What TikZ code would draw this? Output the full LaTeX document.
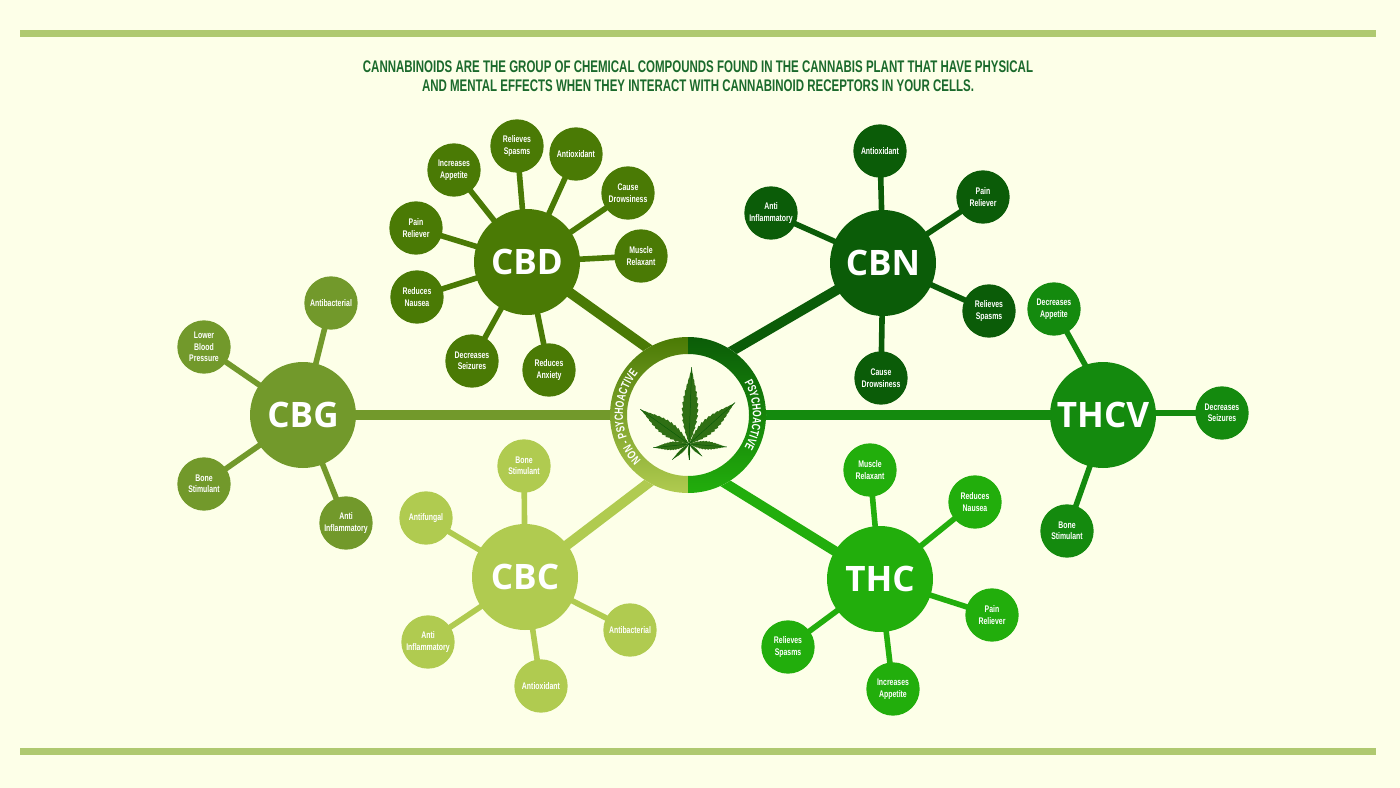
\documentclass[tikz,border=0pt]{standalone}
\usepackage{fontspec}
\setmainfont{Liberation Sans}
\newfontfamily\condfont[FakeStretch=0.72]{Liberation Sans}
\newfontfamily\titlefont[FakeStretch=0.685]{Liberation Sans}
\newfontfamily\hubfont{Open Sans}
\usetikzlibrary{backgrounds,decorations.text}
\definecolor{paper}{HTML}{FDFFE8}
\definecolor{barc}{HTML}{AFC970}
\definecolor{titlec}{HTML}{1B6A2C}
\definecolor{cbdc}{HTML}{4A7A05}
\definecolor{cbnc}{HTML}{0B5C08}
\definecolor{cbgc}{HTML}{72992B}
\definecolor{cbcc}{HTML}{B0CB50}
\definecolor{thcc}{HTML}{22AE0C}
\definecolor{thcvc}{HTML}{148A0E}
\definecolor{leafc}{HTML}{2F6F14}
\tikzset{
  x=0.75pt,y=0.75pt,
  bigcirc/.style={circle,inner sep=0pt,minimum size=79.5pt,text=white,font=\hubfont\bfseries\fontsize{26.3}{27}\selectfont},
  kidcirc/.style={circle,inner sep=0pt,minimum size=40pt,text=white,align=center,font=\condfont\bfseries\fontsize{7.2}{8.6}\selectfont},
  spoke/.style={line width=4.2pt},
  trunk/.style={line width=7.5pt},
  titletext/.style={text=titlec,align=center,font=\titlefont\bfseries\fontsize{12.6}{14.4}\selectfont},
  declare function={lf(\t)=sin(180*\t^0.85)^1.25*(0.85+0.22*mod(\t*13,1));}
}
\newcommand{\leaflet}[5]{%
  \fill[leafc,shift={(#1,#2)},rotate=#3]
    plot[domain=0:1,samples=79] ({#4*\x},{#5*lf(\x)})
    -- plot[domain=1:0,samples=79] ({#4*\x},{-#5*lf(\x)}) -- cycle;
  \draw[cbnc,line width=0.35pt,shift={(#1,#2)},rotate=#3] (0,0) -- (#4,0);}
\begin{document}
\begin{tikzpicture}
\useasboundingbox (0,0) rectangle (1400,-788);
\begin{pgfonlayer}{background}
\fill[paper] (0,0) rectangle (1400,-788);
\end{pgfonlayer}
\fill[barc] (20,-30) rectangle (1376,-37);
\fill[barc] (20,-748) rectangle (1376,-755);
\node[titletext] (title) at (698,-76.5) {CANNABINOIDS ARE THE GROUP OF CHEMICAL COMPOUNDS FOUND IN THE CANNABIS PLANT THAT HAVE PHYSICAL\\AND MENTAL EFFECTS WHEN THEY INTERACT WITH CANNABINOID RECEPTORS IN YOUR CELLS.};

% main circles
\node[bigcirc,fill=cbdc] (cbd) at (527,-262) {CBD};
\node[bigcirc,fill=cbnc] (cbn) at (883,-263) {CBN};
\node[bigcirc,fill=cbgc] (cbg) at (303,-415) {CBG};
\node[bigcirc,fill=cbcc] (cbc) at (525,-577) {CBC};
\node[bigcirc,fill=thcc] (thc) at (880,-579) {THC};
\node[bigcirc,fill=thcvc] (thcv) at (1103,-415) {THCV};

% hub
\node[circle,fill=paper,inner sep=0pt,minimum size=117pt] (hub) at (688,-415) {};
\coordinate (tcbd) at (660,-357);
\coordinate (tcbn) at (720,-358);
\coordinate (tcbc) at (655,-478);
\coordinate (tthc) at (720,-480);
\begin{pgfonlayer}{background}
\draw[trunk,cbdc] (tcbd) -- (cbd.center);
\draw[trunk,cbnc] (tcbn) -- (cbn.center);
\draw[trunk,cbgc] (hub.center) -- (cbg.center);
\draw[trunk,cbcc] (tcbc) -- (cbc.center);
\draw[trunk,thcc] (tthc) -- (thc.center);
\draw[trunk,thcvc] (hub.center) -- (thcv.center);
\end{pgfonlayer}
\shade[top color=cbdc,middle color=cbgc,bottom color=cbcc]
  (688,-337) arc (90:270:78) -- (688,-476) arc (270:90:61) -- cycle;
\shade[top color=cbnc,middle color=thcvc,bottom color=thcc]
  (688,-337) arc (90:-90:78) -- (688,-476) arc (-90:90:61) -- cycle;
\path[decorate,decoration={text along path,text color=white,text align=center,
  text={|\condfont\bfseries\fontsize{9}{9}\selectfont|PSYCHOACTIVE}}]
  (688,-415) ++(45:65) arc (45:-45:65);
\path[decorate,decoration={text along path,text color=white,text align=center,
  text={|\condfont\bfseries\fontsize{9}{9}\selectfont|NON - PSYCHOACTIVE}}]
  (688,-415) ++(242:65) arc (242:122:65);
% leaf
\leaflet{689}{-444}{88}{77}{8}
\leaflet{689}{-444}{42}{62}{7.5}
\leaflet{689}{-444}{144.5}{60}{7.5}
\leaflet{689}{-444}{-4.5}{38}{4.2}
\leaflet{689}{-444}{186}{36}{4.2}
\leaflet{689}{-444}{-43}{18}{1.5}
\leaflet{689}{-444}{223}{23}{1.7}
\leaflet{689}{-444}{-90}{16}{1.1}

% children
\foreach \n/\x/\y/\t in {
  d1/517/146/{Relieves\\Spasms}, d2/576/154/{Antioxidant}, d3/628/193/{Cause\\Drowsiness},
  d4/641/256/{Muscle\\Relaxant}, d5/549/370/{Reduces\\Anxiety}, d6/472/361/{Decreases\\Seizures},
  d7/417/297/{Reduces\\Nausea}, d8/416/228/{Pain\\Reliever}, d9/454/170/{Increases\\Appetite}} {
  \node[kidcirc,fill=cbdc] (\n) at (\x,-\y) {\t};
  \begin{pgfonlayer}{background}\draw[spoke,cbdc] (\n.center) -- (cbd.center);\end{pgfonlayer}
}
\foreach \n/\x/\y/\t in {
  n1/880/151/{Antioxidant}, n2/983/197/{Pain\\Reliever}, n3/989/311/{Relieves\\Spasms},
  n4/881/378/{Cause\\Drowsiness}, n5/771/213/{Anti\\Inflammatory}} {
  \node[kidcirc,fill=cbnc] (\n) at (\x,-\y) {\t};
  \begin{pgfonlayer}{background}\draw[spoke,cbnc] (\n.center) -- (cbn.center);\end{pgfonlayer}
}
\foreach \n/\x/\y/\t in {
  g1/331/303/{Antibacterial}, g2/204/347/{Lower\\Blood\\Pressure}, g3/204/484/{Bone\\Stimulant},
  g4/346/523/{Anti\\Inflammatory}} {
  \node[kidcirc,fill=cbgc] (\n) at (\x,-\y) {\t};
  \begin{pgfonlayer}{background}\draw[spoke,cbgc] (\n.center) -- (cbg.center);\end{pgfonlayer}
}
\foreach \n/\x/\y/\t in {
  c1/524/466/{Bone\\Stimulant}, c2/426/518/{Antifungal}, c3/428/642/{Anti\\Inflammatory},
  c4/541/686/{Antioxidant}, c5/630/630/{Antibacterial}} {
  \node[kidcirc,fill=cbcc] (\n) at (\x,-\y) {\t};
  \begin{pgfonlayer}{background}\draw[spoke,cbcc] (\n.center) -- (cbc.center);\end{pgfonlayer}
}
\foreach \n/\x/\y/\t in {
  h1/870/470/{Muscle\\Relaxant}, h2/975/502/{Reduces\\Nausea}, h3/992/615/{Pain\\Reliever},
  h4/893/689/{Increases\\Appetite}, h5/788/647/{Relieves\\Spasms}} {
  \node[kidcirc,fill=thcc] (\n) at (\x,-\y) {\t};
  \begin{pgfonlayer}{background}\draw[spoke,thcc] (\n.center) -- (thc.center);\end{pgfonlayer}
}
\node[kidcirc,fill=thcvc] (v1) at (1054,-309) {Decreases\\Appetite};
\node[kidcirc,fill=thcvc] (v2) at (1222,-413) {Decreases\\Seizures};
\node[kidcirc,fill=thcvc] (v3) at (1067,-531) {Bone\\Stimulant};
\coordinate (tv1) at (1113,-415);
\coordinate (tv3) at (1108,-415);
\begin{pgfonlayer}{background}
\draw[spoke,thcvc] (v1.center) -- (tv1);
\draw[spoke,thcvc] (v2.center) -- (1103,-413);
\draw[spoke,thcvc] (v3.center) -- (tv3);
\end{pgfonlayer}
\end{tikzpicture}
\end{document}
